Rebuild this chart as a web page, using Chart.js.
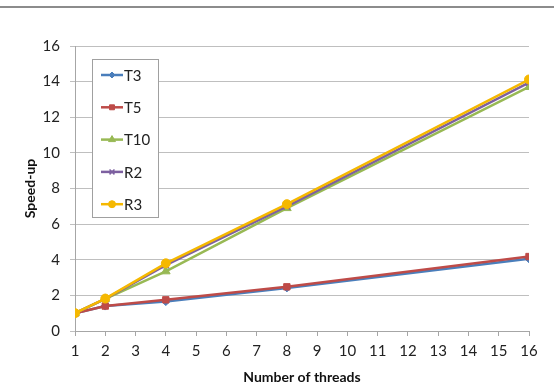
<!DOCTYPE html>
<html>
<head>
<meta charset="utf-8">
<script src="https://cdn.jsdelivr.net/npm/chart.js@4"></script>
<style>
  html, body { margin: 0; padding: 0; background: #fff; }
  #wrap { position: relative; width: 554px; height: 391px; }
  #rule { position: absolute; left: 0; top: 6px; width: 554px; height: 2px; background: #8c8c8c; }
  canvas { display: block; }
</style>
</head>
<body>
<div id="wrap">
  <div id="rule"></div>
  <canvas id="speedup" width="554" height="391"></canvas>
</div>
<script>
var threads = [1, 2, 4, 8, 16];
var seriesNames = ["T3", "T5", "T10", "R2", "R3"];
var T3 = [1.0, 1.4, 1.65, 2.42, 4.05];
var T5 = [1.0, 1.4, 1.75, 2.48, 4.18];
var T10 = [1.0, 1.8, 3.35, 6.9, 13.7];
var R2 = [1.0, 1.8, 3.7, 7.0, 13.95];
var R3 = [1.0, 1.82, 3.8, 7.12, 14.12];
var yTicks = [0, 2, 4, 6, 8, 10, 12, 14, 16];

var colors = ["#4a7ebb", "#be4b48", "#98b954", "#7d60a0", "#f5b800"];
var markers = ["rectRot", "rect", "triangle", "crossRot", "circle"];
var radii = [4, 4.5, 5, 4.5, 4.5];
var values = [T3, T5, T10, R2, R3];

var font = "Lato, 'Open Sans', sans-serif";

function pts(arr) {
    return arr.map(function (v, i) { return { x: threads[i], y: v }; });
}

var datasets = seriesNames.map(function (name, i) {
    return {
        label: name,
        data: pts(values[i]),
        borderColor: colors[i],
        backgroundColor: colors[i],
        borderWidth: 2.5,
        pointStyle: markers[i],
        pointRadius: radii[i],
        pointBorderWidth: markers[i] === "crossRot" ? 1.5 : 1,
        pointBorderColor: colors[i],
        pointBackgroundColor: colors[i],
        tension: 0,
        order: seriesNames.length - i
    };
});

// legend box inside the plot area, drawn like the spreadsheet one
var boxLegend = {
    id: 'boxLegend',
    afterDraw: function (chart) {
        var c = chart.ctx;
        var x0 = 92, y0 = 59, w = 66, h = 158;
        c.save();
        c.fillStyle = "#fff";
        c.fillRect(x0, y0, w, h);
        c.strokeStyle = "#a0a0a0";
        c.lineWidth = 1;
        c.strokeRect(x0 + 0.5, y0 + 0.5, w, h);
        chart.data.datasets.forEach(function (ds, i) {
            var y = 75 + i * 32.3;
            c.strokeStyle = ds.borderColor;
            c.lineWidth = 2.5;
            c.beginPath();
            c.moveTo(101, y);
            c.lineTo(123, y);
            c.stroke();
            c.fillStyle = ds.backgroundColor;
            c.strokeStyle = ds.borderColor;
            c.lineWidth = ds.pointBorderWidth;
            Chart.helpers.drawPoint(c, {
                pointStyle: ds.pointStyle,
                radius: ds.pointRadius - 1,
                borderWidth: ds.pointBorderWidth,
                rotation: 0
            }, 112, y);
            c.fillStyle = "#222";
            c.font = "15px " + font;
            c.textBaseline = "middle";
            c.textAlign = "left";
            c.fillText(ds.label, 124, y + 1);
        });
        c.restore();
    }
};

new Chart(document.getElementById("speedup"), {
    type: 'line',
    data: { datasets: datasets },
    plugins: [boxLegend],
    options: {
        responsive: false,
        animation: false,
        layout: { padding: { left: 0, right: 25, top: 46, bottom: 0 } },
        plugins: {
            legend: { display: false },
            tooltip: { enabled: false }
        },
        scales: {
            x: {
                type: 'linear',
                min: 1,
                max: 16,
                afterBuildTicks: function (scale) {
                    var t = [];
                    for (var k = 1; k <= 16; k++) t.push({ value: k });
                    scale.ticks = t;
                },
                afterFit: function (scale) {
                    scale.height = 60;
                    scale.paddingRight = 0;
                    scale.paddingLeft = 0;
                },
                border: { color: "#a6a6a6", width: 1 },
                grid: { drawOnChartArea: false, drawTicks: true, tickLength: 5, color: "#a6a6a6" },
                ticks: { color: "#222", font: { family: font, size: 15 }, padding: 6, maxRotation: 0, autoSkip: false },
                title: {
                    display: true,
                    text: "Number of threads",
                    color: "#111",
                    font: { family: font, size: 14, weight: 'bold' },
                    padding: { top: 0, bottom: 5 }
                }
            },
            y: {
                min: 0,
                max: 16,
                afterBuildTicks: function (scale) {
                    scale.ticks = yTicks.map(function (v) { return { value: v }; });
                },
                afterFit: function (scale) { scale.width = 75; },
                border: { color: "#a6a6a6", width: 1 },
                grid: { color: "#bfbfbf", tickLength: 5, drawTicks: true },
                ticks: { color: "#222", font: { family: font, size: 15 }, padding: 10 },
                title: {
                    display: true,
                    text: "Speed-up",
                    color: "#111",
                    font: { family: font, size: 14, weight: 'bold' },
                    padding: { top: 22, bottom: 0 }
                }
            }
        }
    }
});
</script>
</body>
</html>
